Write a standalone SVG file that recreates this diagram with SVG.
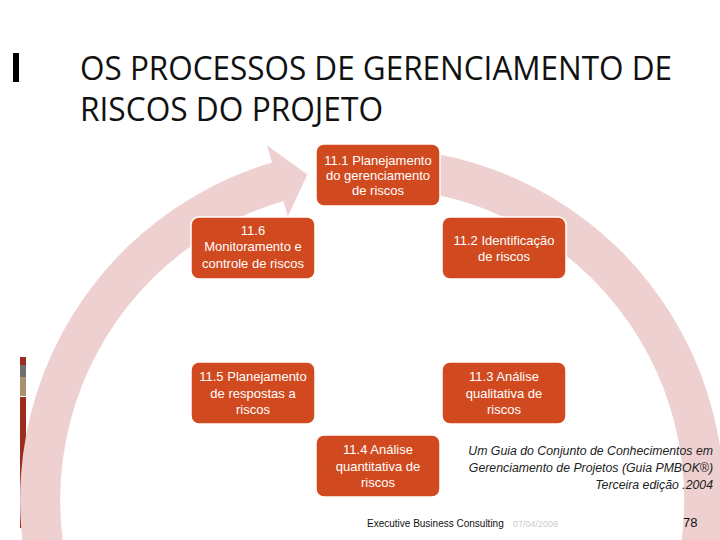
<svg xmlns="http://www.w3.org/2000/svg" width="720" height="540" viewBox="0 0 720 540">
<style>
.node rect{fill:#d14a1f;stroke:#ffffff;stroke-width:1.5}
.node text{fill:#ffffff;font-family:"Liberation Sans",Arial,sans-serif;font-size:13px;text-anchor:middle}
.title{font-family:"Open Sans","Liberation Sans",sans-serif;font-size:33px;fill:#111}
.cite{font-family:"Liberation Sans",Arial,sans-serif;font-style:italic;font-size:12.3px;fill:#222;text-anchor:end}
.foot{font-family:"Liberation Sans",Arial,sans-serif}
</style>
<rect width="720" height="540" fill="#ffffff"/>
<!-- left accent strip -->
<rect x="20" y="357" width="6" height="8" fill="#9b2d1f"/>
<rect x="20" y="365" width="6" height="12" fill="#6f6f6f"/>
<rect x="20" y="377" width="6" height="19" fill="#a89070"/>
<rect x="20" y="397" width="6" height="131" fill="#9b2d1f"/>
<!-- title -->
<rect x="13" y="53" width="6" height="29" fill="#000"/>
<text class="title" x="80" y="80" textLength="592" lengthAdjust="spacingAndGlyphs">OS PROCESSOS DE GERENCIAMENTO DE</text>
<text class="title" x="80" y="121" textLength="303" lengthAdjust="spacingAndGlyphs">RISCOS DO PROJETO</text>
<!-- cycle arrow -->
<g id="connectors">
<path d="M433.1,153.3 A352,352 0 1 1 272.0,162.5 L266.9,145.2 L307.4,174.5 L287.9,216.2 L283.4,200.9 A312,312 0 1 0 426.2,192.7 Z" fill="#efd0d0"/>
</g>
<!-- nodes -->
<g id="n11_1" class="node"><rect x="316" y="144" width="124" height="62" rx="8"/>
<text x="378" y="165">11.1 Planejamento</text><text x="378" y="180">do gerenciamento</text><text x="378" y="195">de riscos</text></g>
<g id="n11_2" class="node"><rect x="442" y="217" width="124" height="62" rx="8"/>
<text x="504" y="245">11.2 Identificação</text><text x="504" y="261">de riscos</text></g>
<g id="n11_3" class="node"><rect x="442" y="362" width="124" height="62" rx="8"/>
<text x="504" y="381">11.3 Análise</text><text x="504" y="397.5">qualitativa de</text><text x="504" y="414">riscos</text></g>
<g id="n11_4" class="node"><rect x="316" y="435" width="124" height="62" rx="8"/>
<text x="378" y="454">11.4 Análise</text><text x="378" y="470.5">quantitativa de</text><text x="378" y="487">riscos</text></g>
<g id="n11_5" class="node"><rect x="191" y="362" width="124" height="62" rx="8"/>
<text x="253" y="381">11.5 Planejamento</text><text x="253" y="397.5">de respostas a</text><text x="253" y="414">riscos</text></g>
<g id="n11_6" class="node"><rect x="191" y="217" width="124" height="62" rx="8"/>
<text x="253" y="234.5">11.6</text><text x="253" y="251">Monitoramento e</text><text x="253" y="267.5">controle de riscos</text></g>
<!-- citation -->
<text class="cite" x="713" y="455">Um Guia do Conjunto de Conhecimentos em</text>
<text class="cite" x="713" y="472">Gerenciamento de Projetos (Guia PMBOK®)</text>
<text class="cite" x="713" y="489">Terceira edição .2004</text>
<!-- footer -->
<text class="foot" x="367" y="527" font-size="10" fill="#111">Executive Business Consulting</text>
<text class="foot" x="513" y="527" font-size="9" fill="#cccccc">07/04/2009</text>
<text class="foot" x="683" y="527" font-size="13" fill="#111">78</text>
</svg>
